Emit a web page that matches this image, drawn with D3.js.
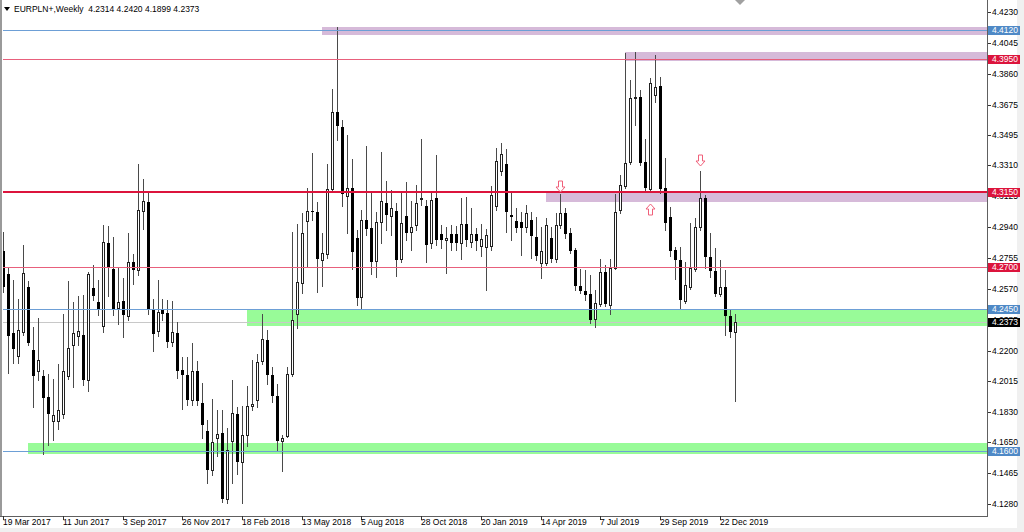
<!DOCTYPE html>
<html><head><meta charset="utf-8">
<script src="https://cdn.jsdelivr.net/npm/d3@7"></script>
<style>
html,body{margin:0;padding:0;background:#f0f0f0;}
svg{display:block;font-family:"Liberation Sans",Arial,sans-serif;}
</style>
</head><body>
<svg id="chart" width="1024" height="532"></svg>
<script>
// ---------------- DATA ----------------
const symbolTitle = "EURPLN+,Weekly";
const firstWeek = "2017-03-19";
const opens = [
4.2796,4.2658,4.2306,4.2166,4.2312,4.2582,4.2206,4.2076,4.2048,4.1922,
4.1776,4.1776,4.1822,4.2048,4.2232,4.2286,4.2296,4.2026,4.2578,4.2492,
4.2346,4.2846,4.2692,4.2456,4.2498,4.2406,4.2732,4.2682,4.3036,4.3088,
4.2442,4.2316,4.2452,4.2428,4.2252,4.2308,4.2082,4.2052,4.1906,4.2076,
4.1888,4.1716,4.1486,4.1678,4.1708,4.1308,4.1658,4.1822,4.1532,4.1696,
4.1868,4.1902,4.2138,4.2266,4.2052,4.1928,4.1658,4.1686,4.2058,4.2418,
4.2606,4.2978,4.3038,4.3032,4.2746,4.2776,4.3166,4.3628,4.3538,4.3126,
4.3176,4.2872,4.2522,4.2982,4.2932,4.2736,4.2968,4.3086,4.3006,4.3038,
4.2752,4.3008,4.2908,4.2952,4.3111,4.3066,4.2842,4.3116,4.2896,4.2862,
4.2898,4.2896,4.2842,4.2956,4.2848,4.2896,4.2828,4.2822,4.2826,4.3066,
4.3276,4.3318,4.3012,4.2976,4.2972,4.2938,4.2982,4.2882,4.2728,4.2728,
4.2876,4.2752,4.2952,4.3022,4.2902,4.2802,4.2586,4.2558,4.2542,4.2392,
4.2482,4.2672,4.2476,4.2696,4.3042,4.3188,4.3332,4.3714,4.3718,4.3332,
4.3166,4.3732,4.3786,4.3174,4.3002,4.2802,4.2742,4.2498,4.2582,4.2692,
4.2938,4.3112,4.2762,4.2678,4.2542,4.2582,4.2408,4.2314];
const highs = [
4.2910,4.2700,4.2622,4.2512,4.2832,4.2618,4.2342,4.2398,4.2082,4.2058,
4.2028,4.2122,4.2418,4.2616,4.2492,4.2528,4.2532,4.2672,4.2712,4.2622,
4.2952,4.2946,4.2878,4.2702,4.2638,4.2902,4.2778,4.3318,4.3226,4.3142,
4.2512,4.2626,4.2508,4.2502,4.2498,4.2372,4.2162,4.2162,4.2248,4.2138,
4.2006,4.1786,4.1912,4.1846,4.1842,4.1738,4.2022,4.1862,4.1866,4.1986,
4.2146,4.2182,4.2418,4.2322,4.2102,4.2002,4.1692,4.2102,4.2912,4.2958,
4.3022,4.3172,4.3382,4.3092,4.2902,4.3318,4.3766,4.4142,4.3582,4.3492,
4.3346,4.2922,4.3042,4.3426,4.3158,4.3032,4.3388,4.3218,4.3162,4.3086,
4.3142,4.3212,4.3096,4.3192,4.3466,4.3102,4.3146,4.3372,4.2952,4.2938,
4.2952,4.2946,4.3112,4.3122,4.3056,4.2936,4.2956,4.2926,4.3186,4.3412,
4.3442,4.3406,4.3152,4.3052,4.3032,4.3072,4.3032,4.2998,4.2942,4.2992,
4.2942,4.3022,4.3136,4.3054,4.2934,4.2814,4.2692,4.2682,4.2652,4.2562,
4.2752,4.2712,4.2752,4.3138,4.3252,4.3982,4.3822,4.3988,4.3762,4.3468,
4.3834,4.3972,4.3842,4.3352,4.3058,4.2822,4.2822,4.2732,4.2962,4.2992,
4.3276,4.3132,4.2906,4.2812,4.2742,4.2682,4.2442,4.2420];
const lows = [
4.2550,4.2064,4.2128,4.2128,4.2292,4.2232,4.1862,4.2022,4.1582,4.1632,
4.1666,4.1732,4.1794,4.2032,4.1982,4.2232,4.1992,4.1958,4.2502,4.2412,
4.2312,4.2528,4.2412,4.2362,4.2282,4.2382,4.2598,4.2652,4.2926,4.2418,
4.2198,4.2286,4.2382,4.2222,4.2226,4.2034,4.1852,4.1872,4.1872,4.1872,
4.1674,4.1406,4.1452,4.1566,4.1290,4.1288,4.1406,4.1462,4.1286,4.1626,
4.1842,4.1862,4.2122,4.2002,4.1892,4.1606,4.1478,4.1682,4.2046,4.2338,
4.2546,4.2702,4.2982,4.2552,4.2586,4.2754,4.3150,4.3462,4.3066,4.2902,
4.2692,4.2472,4.2452,4.2892,4.2662,4.2642,4.2846,4.2922,4.2892,4.2646,
4.2730,4.2862,4.2802,4.2922,4.3072,4.2732,4.2814,4.2832,4.2814,4.2666,
4.2802,4.2802,4.2752,4.2826,4.2820,4.2802,4.2766,4.2566,4.2802,4.3042,
4.3252,4.2912,4.2862,4.2910,4.2772,4.2910,4.2756,4.2742,4.2636,4.2712,
4.2730,4.2730,4.2934,4.2874,4.2784,4.2562,4.2544,4.2502,4.2364,4.2342,
4.2466,4.2466,4.2422,4.2688,4.3024,4.3174,4.3318,4.3552,4.3312,4.3150,
4.3150,4.3692,4.3144,4.2922,4.2766,4.2632,4.2452,4.2484,4.2568,4.2676,
4.2922,4.2698,4.2642,4.2526,4.2526,4.2296,4.2282,4.1899];
const closes = [
4.2580,4.2286,4.2208,4.2326,4.2666,4.2246,4.2048,4.2146,4.1916,4.1822,
4.1812,4.1846,4.2076,4.2218,4.2306,4.2316,4.2022,4.2662,4.2528,4.2446,
4.2852,4.2702,4.2452,4.2492,4.2412,4.2732,4.2682,4.3042,4.3096,4.2452,
4.2302,4.2432,4.2422,4.2252,4.2312,4.2078,4.2056,4.1906,4.2078,4.1896,
4.1752,4.1486,4.1652,4.1702,4.1308,4.1606,4.1828,4.1532,4.1696,4.1866,
4.1878,4.2132,4.2272,4.2056,4.1926,4.1658,4.1678,4.2058,4.2382,4.2612,
4.2902,4.3038,4.3028,4.2752,4.2782,4.3166,4.3632,4.3546,4.3136,4.3176,
4.2788,4.2518,4.2982,4.2926,4.2732,4.2972,4.3096,4.3012,4.3052,4.2746,
4.2962,4.2906,4.2938,4.3086,4.3117,4.2832,4.3102,4.2862,4.2862,4.2872,
4.2842,4.2842,4.2956,4.2862,4.2898,4.2856,4.2868,4.2892,4.3132,4.3338,
4.3378,4.3032,4.3000,4.2936,4.2932,4.3022,4.2886,4.2768,4.2796,4.2952,
4.2752,4.2952,4.3022,4.2896,4.2798,4.2586,4.2558,4.2536,4.2386,4.2486,
4.2672,4.2482,4.2696,4.3032,4.3192,4.3326,4.3712,4.3720,4.3326,4.3172,
4.3804,4.3782,4.3166,4.2962,4.2796,4.2742,4.2502,4.2592,4.2696,4.2942,
4.3112,4.2762,4.2678,4.2542,4.2582,4.2408,4.2312,4.2373];

const xTickLabels = ["19 Mar 2017","11 Jun 2017","3 Sep 2017","26 Nov 2017","18 Feb 2018",
  "13 May 2018","5 Aug 2018","28 Oct 2018","20 Jan 2019","14 Apr 2019","7 Jul 2019",
  "29 Sep 2019","22 Dec 2019"];
const yTickLabels = ["4.4230","4.4045","4.3860","4.3675","4.3495","4.3310","4.3125","4.2940",
  "4.2755","4.2570","4.2385","4.2200","4.2015","4.1830","4.1650","4.1465","4.1280"];

const levelPrices = [4.4120, 4.3950, 4.3150, 4.2700, 4.2450, 4.1600];
const levelKinds  = ["blue", "red", "redBold", "red", "blue", "blue"];
const bidPrice = 4.2373;

const zoneStarts  = ["2018-06-10","2019-08-11","2019-04-21","2018-02-25","2017-04-23"];
const zoneTops    = [4.4140, 4.3990, 4.3150, 4.2452, 4.1644];
const zoneBottoms = [4.4092, 4.3936, 4.3092, 4.2346, 4.1582];
const zoneKinds   = ["resistance","resistance","resistance","support","support"];

const arrowDates  = ["2019-05-12","2019-09-15","2019-11-24"];
const arrowPrices = [4.3150, 4.3078, 4.3306];
const arrowDirs   = ["down","up","down"];

// ---------------- LAYOUT / STYLE ----------------
const W = 1024, H = 532;
const plotL = 3, plotR = 987, plotB = 516;
const styles = {
  blue:    {stroke:"#6d9fd6", width:1, box:"#4f89c6"},
  red:     {stroke:"#e8607c", width:1, box:"#dc143c"},
  redBold: {stroke:"#dc143c", width:2, box:"#dc143c"},
  resistance: "#d6bad9",
  support: "#98fb98"
};

const parseDay = d3.utcParse("%Y-%m-%d");
const parseTick = d3.utcParse("%e %b %Y");
const t0 = parseDay(firstWeek);
const candles = opens.map((o, i) => ({
  date: d3.utcWeek.offset(t0, i), o, h: highs[i], l: lows[i], c: closes[i]
}));

const x = d3.scaleUtc()
  .domain([candles[0].date, candles[candles.length - 1].date])
  .range([3.3, 734.6]);
const y = d3.scaleLinear().domain([4.1280, 4.4230]).range([504, 12]);
const py = v => Math.round(y(v));

const svg = d3.select("#chart");
svg.append("rect").attr("width", 1017).attr("height", 528).attr("fill", "#fff");

const defs = svg.append("defs");
defs.append("clipPath").attr("id", "plot")
  .append("rect").attr("x", plotL).attr("y", 0).attr("width", plotR - plotL).attr("height", plotB);

const plot = svg.append("g").attr("clip-path", "url(#plot)");

// zones (background)
plot.append("g").selectAll("rect").data(zoneStarts.map((s, i) => ({
  x0: x(parseDay(s)), top: zoneTops[i], bot: zoneBottoms[i], kind: zoneKinds[i]
}))).join("rect")
  .attr("x", d => Math.round(d.x0))
  .attr("y", d => py(d.top))
  .attr("width", d => plotR - Math.round(d.x0))
  .attr("height", d => py(d.bot) - py(d.top))
  .attr("fill", d => styles[d.kind]);

// bid line
plot.append("line")
  .attr("x1", plotL).attr("x2", plotR)
  .attr("y1", py(bidPrice) + 0.5).attr("y2", py(bidPrice) + 0.5)
  .attr("stroke", "#c8c8c8").attr("stroke-width", 1);

// candles
const cg = plot.append("g");
candles.forEach(d => {
  const cx = Math.round(x(d.date));
  cg.append("line")
    .attr("x1", cx + 0.5).attr("x2", cx + 0.5)
    .attr("y1", py(d.h)).attr("y2", py(d.l) + 1)
    .attr("stroke", "#4a4a4a").attr("stroke-width", 1);
  const top = py(Math.max(d.o, d.c)), bot = py(Math.min(d.o, d.c));
  if (d.c >= d.o) {
    cg.append("rect")
      .attr("x", cx - 0.5).attr("y", top + 0.5)
      .attr("width", 2).attr("height", Math.max(bot - top, 1))
      .attr("fill", "#fff").attr("stroke", "#222").attr("stroke-width", 1);
  } else {
    cg.append("rect")
      .attr("x", cx - 1).attr("y", top)
      .attr("width", 3).attr("height", Math.max(bot - top, 1))
      .attr("fill", "#000");
  }
});

// horizontal levels
plot.append("g").selectAll("line").data(levelPrices.map((p, i) => ({p, k: levelKinds[i]})))
  .join("line")
  .attr("x1", plotL).attr("x2", plotR)
  .attr("y1", d => styles[d.k].width === 2 ? py(d.p) : py(d.p) + 0.5)
  .attr("y2", d => styles[d.k].width === 2 ? py(d.p) : py(d.p) + 0.5)
  .attr("stroke", d => styles[d.k].stroke)
  .attr("stroke-width", d => styles[d.k].width);

// arrows
arrowDates.forEach((s, i) => {
  const ax = Math.round(x(parseDay(s))) + 0.5;
  const ay = py(arrowPrices[i]);
  const dir = arrowDirs[i] === "down" ? -1 : 1; // tip at ay, body extends away
  const p = d3.path();
  const h1 = 5, h2 = 11;
  p.moveTo(ax, ay);
  p.lineTo(ax + 4.5, ay + dir * h1);
  p.lineTo(ax + 2, ay + dir * h1);
  p.lineTo(ax + 2, ay + dir * h2);
  p.lineTo(ax - 2, ay + dir * h2);
  p.lineTo(ax - 2, ay + dir * h1);
  p.lineTo(ax - 4.5, ay + dir * h1);
  p.closePath();
  plot.append("path").attr("d", p.toString())
    .attr("fill", "#fff").attr("stroke", "#f0607a").attr("stroke-width", 1);
});

// frame
svg.append("line").attr("x1", 1).attr("x2", 1).attr("y1", 0).attr("y2", plotB + 1)
  .attr("stroke", "#9a9a9a").attr("stroke-width", 2);
svg.append("line").attr("x1", plotR + 0.5).attr("x2", plotR + 0.5).attr("y1", 0).attr("y2", plotB + 1)
  .attr("stroke", "#606060").attr("stroke-width", 1);
svg.append("line").attr("x1", 0).attr("x2", plotR + 1).attr("y1", plotB + 0.5).attr("y2", plotB + 0.5)
  .attr("stroke", "#606060").attr("stroke-width", 1);

// shift marker
svg.append("path").attr("d", "M735,0 L745,0 L740,5 Z").attr("fill", "#a0a0a0");

// y axis labels
const yAx = svg.append("g");
yTickLabels.forEach(t => {
  const v = +t, yy = py(v);
  yAx.append("line").attr("x1", plotR + 1).attr("x2", plotR + 4)
    .attr("y1", yy + 0.5).attr("y2", yy + 0.5).attr("stroke", "#333");
  yAx.append("text").attr("x", 992).attr("y", yy + 3)
    .attr("font-size", 8.5).attr("fill", "#000").text(t);
});

// price boxes
const boxes = levelPrices.map((p, i) => ({p, color: styles[levelKinds[i]].box}))
  .concat([{p: bidPrice, color: "#000"}]);
boxes.forEach(b => {
  const yy = py(b.p);
  svg.append("rect").attr("x", 988).attr("y", yy - 4).attr("width", 32).attr("height", 9)
    .attr("fill", b.color);
  svg.append("text").attr("x", 992).attr("y", yy + 3)
    .attr("font-size", 8.5).attr("fill", "#fff").text(b.p.toFixed(4));
});

// x axis
const xAx = svg.append("g");
xTickLabels.forEach(t => {
  const xx = Math.round(x(parseTick(t)));
  xAx.append("line").attr("x1", xx + 0.5).attr("x2", xx + 0.5)
    .attr("y1", plotB).attr("y2", plotB + 4).attr("stroke", "#333");
  xAx.append("text").attr("x", xx).attr("y", 525)
    .attr("font-size", 8.5).attr("fill", "#000").text(t);
});

// title
const last = candles[candles.length - 1];
svg.append("path").attr("d", "M4,7 L10,7 L7,11 Z").attr("fill", "#000");
svg.append("text").attr("x", 14).attr("y", 12).attr("font-size", 8.5).attr("fill", "#000")
  .attr("xml:space", "preserve")
  .text(`${symbolTitle}  ${last.o.toFixed(4)} ${last.h.toFixed(4)} ${last.l.toFixed(4)} ${last.c.toFixed(4)}`);
</script>
</body></html>
